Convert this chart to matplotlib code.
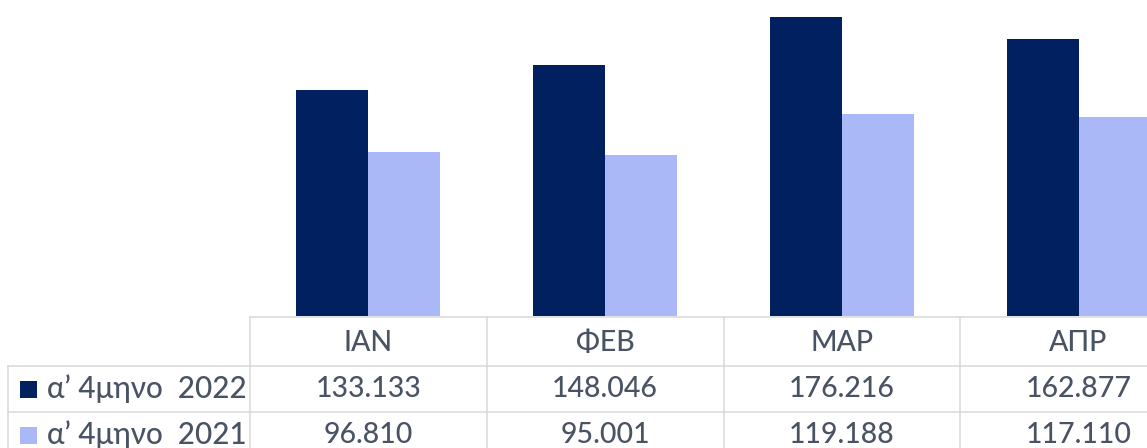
import matplotlib
matplotlib.use('Agg')
import matplotlib.pyplot as plt
import numpy as np
from matplotlib.transforms import blended_transform_factory
from matplotlib.lines import Line2D
from matplotlib.patches import Rectangle

# ---- data ----
categories = ['ΙΑΝ', 'ΦΕΒ', 'ΜΑΡ', 'ΑΠΡ']
series_names = ['α’ 4μηνο  2022', 'α’ 4μηνο  2021']
values_2022 = [133133, 148046, 176216, 162877]
values_2021 = [96810, 95001, 119188, 117110]

DARK = '#00205F'
LIGHT = '#AAB8F7'
TEXT = '#4A5364'
GRID = '#D9D9D9'

plt.rcParams['font.family'] = ['Lato', 'Noto Sans', 'DejaVu Sans']

W, H, DPI = 1147, 448, 100
fig = plt.figure(figsize=(W / DPI, H / DPI), dpi=DPI)
fig.patch.set_facecolor('white')

def fy(py):
    return 1 - py / H

col_w = 236.75
ax = fig.add_axes([250 / W, fy(316), 4 * col_w / W, 316 / H])
ax.axis('off')

x = np.arange(len(categories))
w = 72 / col_w
ax.bar(x - w / 2, values_2022, w, color=DARK, edgecolor='none')
ax.bar(x + w / 2, values_2021, w, color=LIGHT, edgecolor='none')
ax.set_xlim(-0.5, len(categories) - 0.5)
ax.set_ylim(0, 186100)

trans = blended_transform_factory(ax.transData, fig.transFigure)
lw = 1.1

# horizontal table lines
fig.add_artist(Line2D([250 / W, 1], [fy(317)] * 2, transform=fig.transFigure, color=GRID, lw=lw))
for py in (366, 411.5):
    fig.add_artist(Line2D([8 / W, 1], [fy(py)] * 2, transform=fig.transFigure, color=GRID, lw=lw))
# vertical table lines
for xv in np.arange(len(categories) + 1) - 0.5:
    fig.add_artist(Line2D([xv, xv], [fy(317), fy(470)], transform=trans, color=GRID, lw=lw))
fig.add_artist(Line2D([8 / W, 8 / W], [fy(366), fy(470)], transform=fig.transFigure, color=GRID, lw=lw))

fs = 20.5
fw = 'medium'
def fmt(v):
    return f"{v:,}".replace(',', '.')

for i, c in enumerate(categories):
    fig.text(i, fy(343), c, transform=trans, ha='center', va='center', fontsize=fs, color=TEXT, fontweight=fw)
    fig.text(i, fy(388.5), fmt(values_2022[i]), transform=trans, ha='center', va='center', fontsize=fs, color=TEXT, fontweight=fw)
    fig.text(i, fy(434.5), fmt(values_2021[i]), transform=trans, ha='center', va='center', fontsize=fs, color=TEXT, fontweight=fw)

# legend keys in table
for name, col, pyc in ((series_names[0], DARK, 389), (series_names[1], LIGHT, 435)):
    fig.add_artist(Rectangle((20 / W, fy(pyc + 8.5)), 17 / W, 17 / H, transform=fig.transFigure,
                             facecolor=col, edgecolor='none'))
    fig.text(47 / W, fy(pyc - 0.5), name, ha='left', va='center', fontsize=fs + 0.8, color=TEXT, fontweight=fw)

fig.savefig('out.png', dpi=DPI)
